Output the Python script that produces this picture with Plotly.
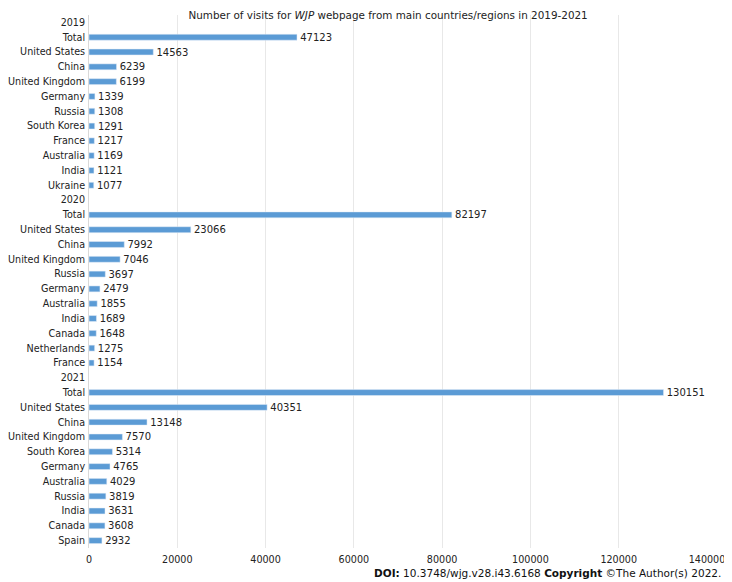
import plotly.graph_objects as go

# rows top to bottom; year header rows have no value
labels = ["2019", "Total", "United States", "China", "United Kingdom", "Germany", "Russia",
          "South Korea", "France", "Australia", "India", "Ukraine",
          "2020", "Total", "United States", "China", "United Kingdom", "Russia", "Germany",
          "Australia", "India", "Canada", "Netherlands", "France",
          "2021", "Total", "United States", "China", "United Kingdom", "South Korea", "Germany",
          "Australia", "Russia", "India", "Canada", "Spain"]
visits = [None, 47123, 14563, 6239, 6199, 1339, 1308, 1291, 1217, 1169, 1121, 1077,
          None, 82197, 23066, 7992, 7046, 3697, 2479, 1855, 1689, 1648, 1275, 1154,
          None, 130151, 40351, 13148, 7570, 5314, 4765, 4029, 3819, 3631, 3608, 2932]
x_ticks = [0, 20000, 40000, 60000, 80000, 100000, 120000, 140000]

pos = list(range(len(labels)))
font = "DejaVu Sans, Tahoma, sans-serif"
fs = 10

fig = go.Figure(go.Bar(
    x=visits, y=pos, orientation="h",
    width=0.4,
    marker_color="#5b9bd5",
    # nbsp keeps a small gap between bar end and its value
    text=[("" if v is None else "\u00a0" + str(v)) for v in visits],
    textposition="outside",
    constraintext="none",
    textfont=dict(size=fs, color="#222"),
    cliponaxis=False,
))

# page body has an 8px margin, so the figure is sized to the rest of the window
fig.update_layout(
    width=724, height=574,
    margin=dict(l=81, r=25, t=7, b=34),
    plot_bgcolor="white", paper_bgcolor="white",
    font=dict(family=font, size=fs, color="#222"),
    showlegend=False,
    title=dict(text="Number of visits for <i>WJP</i> webpage from main countries/regions in 2019-2021",
               xref="container", x=0.525, xanchor="center", y=0.993, yanchor="top",
               font=dict(size=10.4, color="#222")),
)
fig.update_xaxes(range=[0, 140000], tickvals=x_ticks, ticktext=[str(t) for t in x_ticks],
                 showgrid=True, gridcolor="#e8e8e8", zeroline=False, showline=False,
                 ticks="", ticklabelstandoff=4, automargin=False,
                 tickfont=dict(size=9.6))
fig.update_yaxes(tickvals=pos, ticktext=labels, range=[len(labels) - 0.5, -0.5],
                 showgrid=False, zeroline=False, showline=True, linecolor="#d9d9d9",
                 ticks="", ticklabelstandoff=1, automargin=False,
                 tickfont=dict(size=9.6))

fig.add_annotation(
    text="<b>DOI:</b> 10.3748/wjg.v28.i43.6168 <b>Copyright</b> ©The Author(s) 2022.",
    xref="paper", yref="paper", x=1.0259, y=-0.047, xanchor="right", yanchor="middle",
    showarrow=False, font=dict(size=10.5, color="#111"))

fig.write_html("out.html")
